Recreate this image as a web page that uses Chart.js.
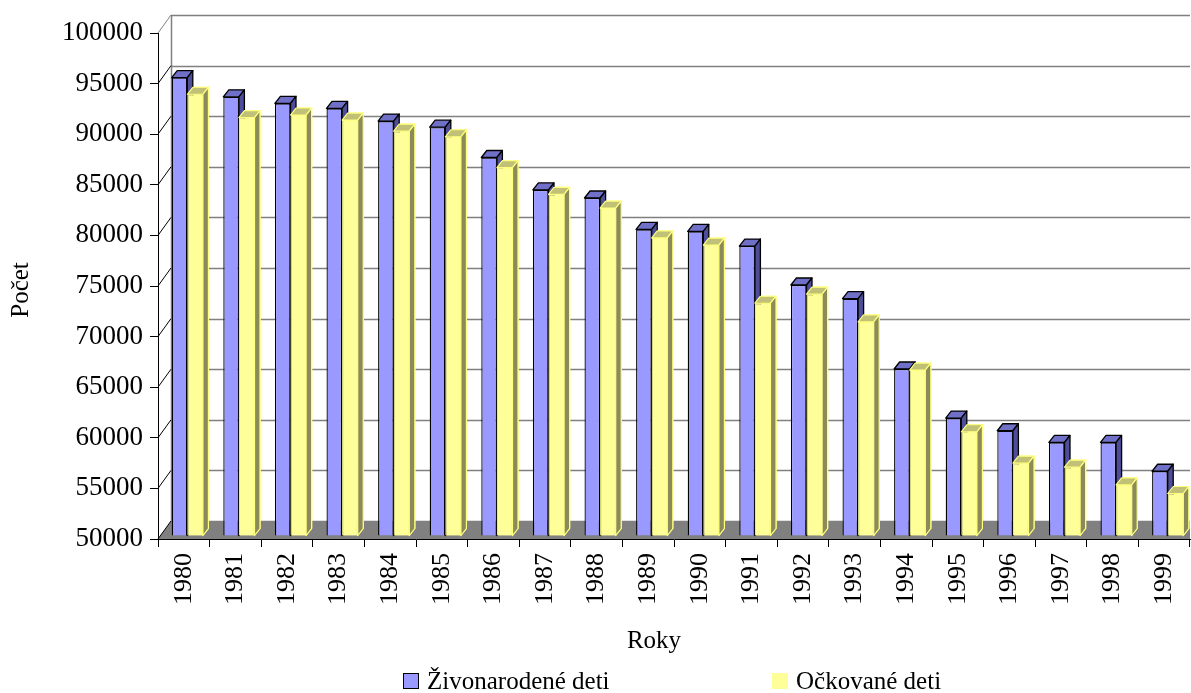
<!DOCTYPE html>
<html>
<head>
<meta charset="utf-8">
<script src="https://cdn.jsdelivr.net/npm/chart.js@4/dist/chart.umd.min.js"></script>
<style>
html,body{margin:0;padding:0;background:#fff;}
#wrap{position:relative;width:1191px;height:693px;}
</style>
</head>
<body>
<div id="wrap"><canvas id="c"></canvas></div>
<script>
const years = ['1980','1981','1982','1983','1984','1985','1986','1987','1988','1989','1990','1991','1992','1993','1994','1995','1996','1997','1998','1999'];
const zivonarodene = [95300, 93400, 92750, 92250, 91000, 90400, 87400, 84200, 83400, 80300, 80100, 78650, 74800, 73450, 66500, 61650, 60400, 59250, 59250, 56400];
const ockovane = [93650, 91350, 91600, 91100, 90000, 89450, 86400, 83750, 82400, 79450, 78750, 73000, 73900, 71150, 66400, 60300, 57200, 56800, 55050, 54200];
const seriesNames = ['Živonarodené deti', 'Očkované deti'];
const yTitle = 'Počet';
const xTitle = 'Roky';
const yMin = 50000, yMax = 100000, yStep = 5000;

const SERIF = '"Liberation Serif", "Times New Roman", serif';
const WALL = {dx: 13, dy: 18};
const BAR = {dx: 5.5, dy: 7, shiftX: 3.5, shiftY: -3};
const faceStyles = [
  {top: '#7070C8', side: '#4D4D99', line: '#000000', lw: 1.3},
  {top: '#C0C076', side: '#8A8A5A', line: '#FFFF80', lw: 1.2}
];

function drawFaces(ctx, meta, st) {
  ctx.lineJoin = 'round';
  meta.data.forEach(bar => {
    const {x, y, base, width} = bar.getProps(['x', 'y', 'base', 'width'], true);
    const l = x - width / 2, r = x + width / 2;
    ctx.lineWidth = st.lw;
    ctx.strokeStyle = st.line;
    ctx.fillStyle = st.top;
    ctx.beginPath();
    ctx.moveTo(l, y);
    ctx.lineTo(r, y);
    ctx.lineTo(r + BAR.dx, y - BAR.dy);
    ctx.lineTo(l + BAR.dx, y - BAR.dy);
    ctx.closePath();
    ctx.fill();
    ctx.stroke();
    ctx.fillStyle = st.side;
    ctx.beginPath();
    ctx.moveTo(r, y);
    ctx.lineTo(r + BAR.dx, y - BAR.dy);
    ctx.lineTo(r + BAR.dx, base - BAR.dy);
    ctx.lineTo(r, base);
    ctx.closePath();
    ctx.fill();
    ctx.stroke();
  });
}

const scene3d = {
  id: 'scene3d',
  beforeDatasetsDraw(chart) {
    const {ctx, chartArea: a, scales: {y}} = chart;
    ctx.save();
    ctx.fillStyle = '#808080';
    ctx.beginPath();
    ctx.moveTo(a.left, a.bottom);
    ctx.lineTo(a.right, a.bottom);
    ctx.lineTo(a.right, a.bottom - WALL.dy);
    ctx.lineTo(a.left + WALL.dx, a.bottom - WALL.dy);
    ctx.closePath();
    ctx.fill();
    ctx.strokeStyle = '#808080';
    ctx.lineWidth = 1.5;
    for (let v = yMin; v <= yMax; v += yStep) {
      const py = Math.round(y.getPixelForValue(v) - WALL.dy) + 0.5;
      ctx.beginPath();
      ctx.moveTo(a.left + WALL.dx, py);
      ctx.lineTo(a.right, py);
      ctx.stroke();
    }
    ctx.beginPath();
    ctx.moveTo(a.left + WALL.dx + 0.5, y.getPixelForValue(yMax) - WALL.dy);
    ctx.lineTo(a.left + WALL.dx + 0.5, y.getPixelForValue(yMin) - WALL.dy);
    ctx.stroke();
    ctx.lineWidth = 1;
    for (let v = yMin; v <= yMax; v += yStep) {
      const py = y.getPixelForValue(v);
      ctx.strokeStyle = v === yMax ? '#808080' : '#000000';
      ctx.beginPath();
      ctx.moveTo(a.left, py);
      ctx.lineTo(a.left + WALL.dx, py - WALL.dy);
      ctx.stroke();
    }
    ctx.restore();
  },
  beforeDatasetDraw(chart) {
    chart.ctx.save();
    chart.ctx.translate(BAR.shiftX, BAR.shiftY);
  },
  afterDatasetDraw(chart, args) {
    drawFaces(chart.ctx, args.meta, faceStyles[args.index]);
    chart.ctx.restore();
  },
  afterDatasetsDraw(chart) {
    // the right-hand series sits in front of the left one's side face: draw it again on top
    const {ctx} = chart;
    const meta = chart.getDatasetMeta(1);
    ctx.save();
    ctx.translate(BAR.shiftX, BAR.shiftY);
    meta.data.forEach(el => el.draw(ctx));
    drawFaces(ctx, meta, faceStyles[1]);
    ctx.restore();
  },
  afterDraw(chart) {
    const {ctx} = chart;
    ctx.save();
    ctx.fillStyle = '#000';
    ctx.font = '25px ' + SERIF;
    ctx.textBaseline = 'middle';
    ctx.save();
    ctx.translate(21, 290);
    ctx.rotate(-Math.PI / 2);
    ctx.textAlign = 'center';
    ctx.fillText(yTitle, 0, 0);
    ctx.restore();
    ctx.textAlign = 'center';
    ctx.fillText(xTitle, 654, 641);
    ctx.textAlign = 'left';
    const items = [
      {x: 403, color: chart.data.datasets[0].backgroundColor, border: '#000'},
      {x: 772, color: chart.data.datasets[1].backgroundColor, border: null}
    ];
    items.forEach((it, i) => {
      ctx.fillStyle = it.color;
      ctx.fillRect(it.x, 673, 16, 16);
      if (it.border) {
        ctx.strokeStyle = it.border;
        ctx.lineWidth = 1;
        ctx.strokeRect(it.x + 0.5, 673.5, 15, 15);
      }
      ctx.fillStyle = '#000';
      ctx.fillText(seriesNames[i], it.x + 24, 682);
    });
    ctx.restore();
  }
};

new Chart(document.getElementById('c'), {
  type: 'bar',
  data: {
    labels: years,
    datasets: [
      {label: seriesNames[0], data: zivonarodene, base: yMin, backgroundColor: '#9999FF', borderColor: '#000000', borderWidth: 1.3, clip: false},
      {label: seriesNames[1], data: ockovane, base: yMin, backgroundColor: '#FFFF99', borderColor: '#FFFF80', borderWidth: 1, clip: false}
    ]
  },
  options: {
    responsive: true,
    maintainAspectRatio: false,
    devicePixelRatio: 1,
    animation: false,
    layout: {padding: {top: 33, right: 1, left: 0, bottom: 0}},
    datasets: {bar: {categoryPercentage: 0.605, barPercentage: 1}},
    plugins: {legend: {display: false}, tooltip: {enabled: false}},
    scales: {
      x: {
        grid: {display: true, drawOnChartArea: false, drawTicks: true, tickLength: 8, color: '#000', offset: true},
        border: {display: true, color: '#000', width: 1},
        ticks: {color: '#000', font: {family: SERIF, size: 26}, minRotation: 90, maxRotation: 90, padding: 6, autoSkip: false},
        afterFit(s) { s.height = 154; s.paddingLeft = 0; s.paddingRight = 0; }
      },
      y: {
        min: yMin, max: yMax,
        grid: {display: true, drawOnChartArea: false, drawTicks: true, tickLength: 8, color: '#000'},
        border: {display: true, color: '#000', width: 1},
        ticks: {stepSize: yStep, color: '#000', font: {family: SERIF, size: 27}, padding: 7, callback: v => String(v)},
        afterFit(s) { s.width = 158; }
      }
    }
  },
  plugins: [scene3d]
});
</script>
</body>
</html>
